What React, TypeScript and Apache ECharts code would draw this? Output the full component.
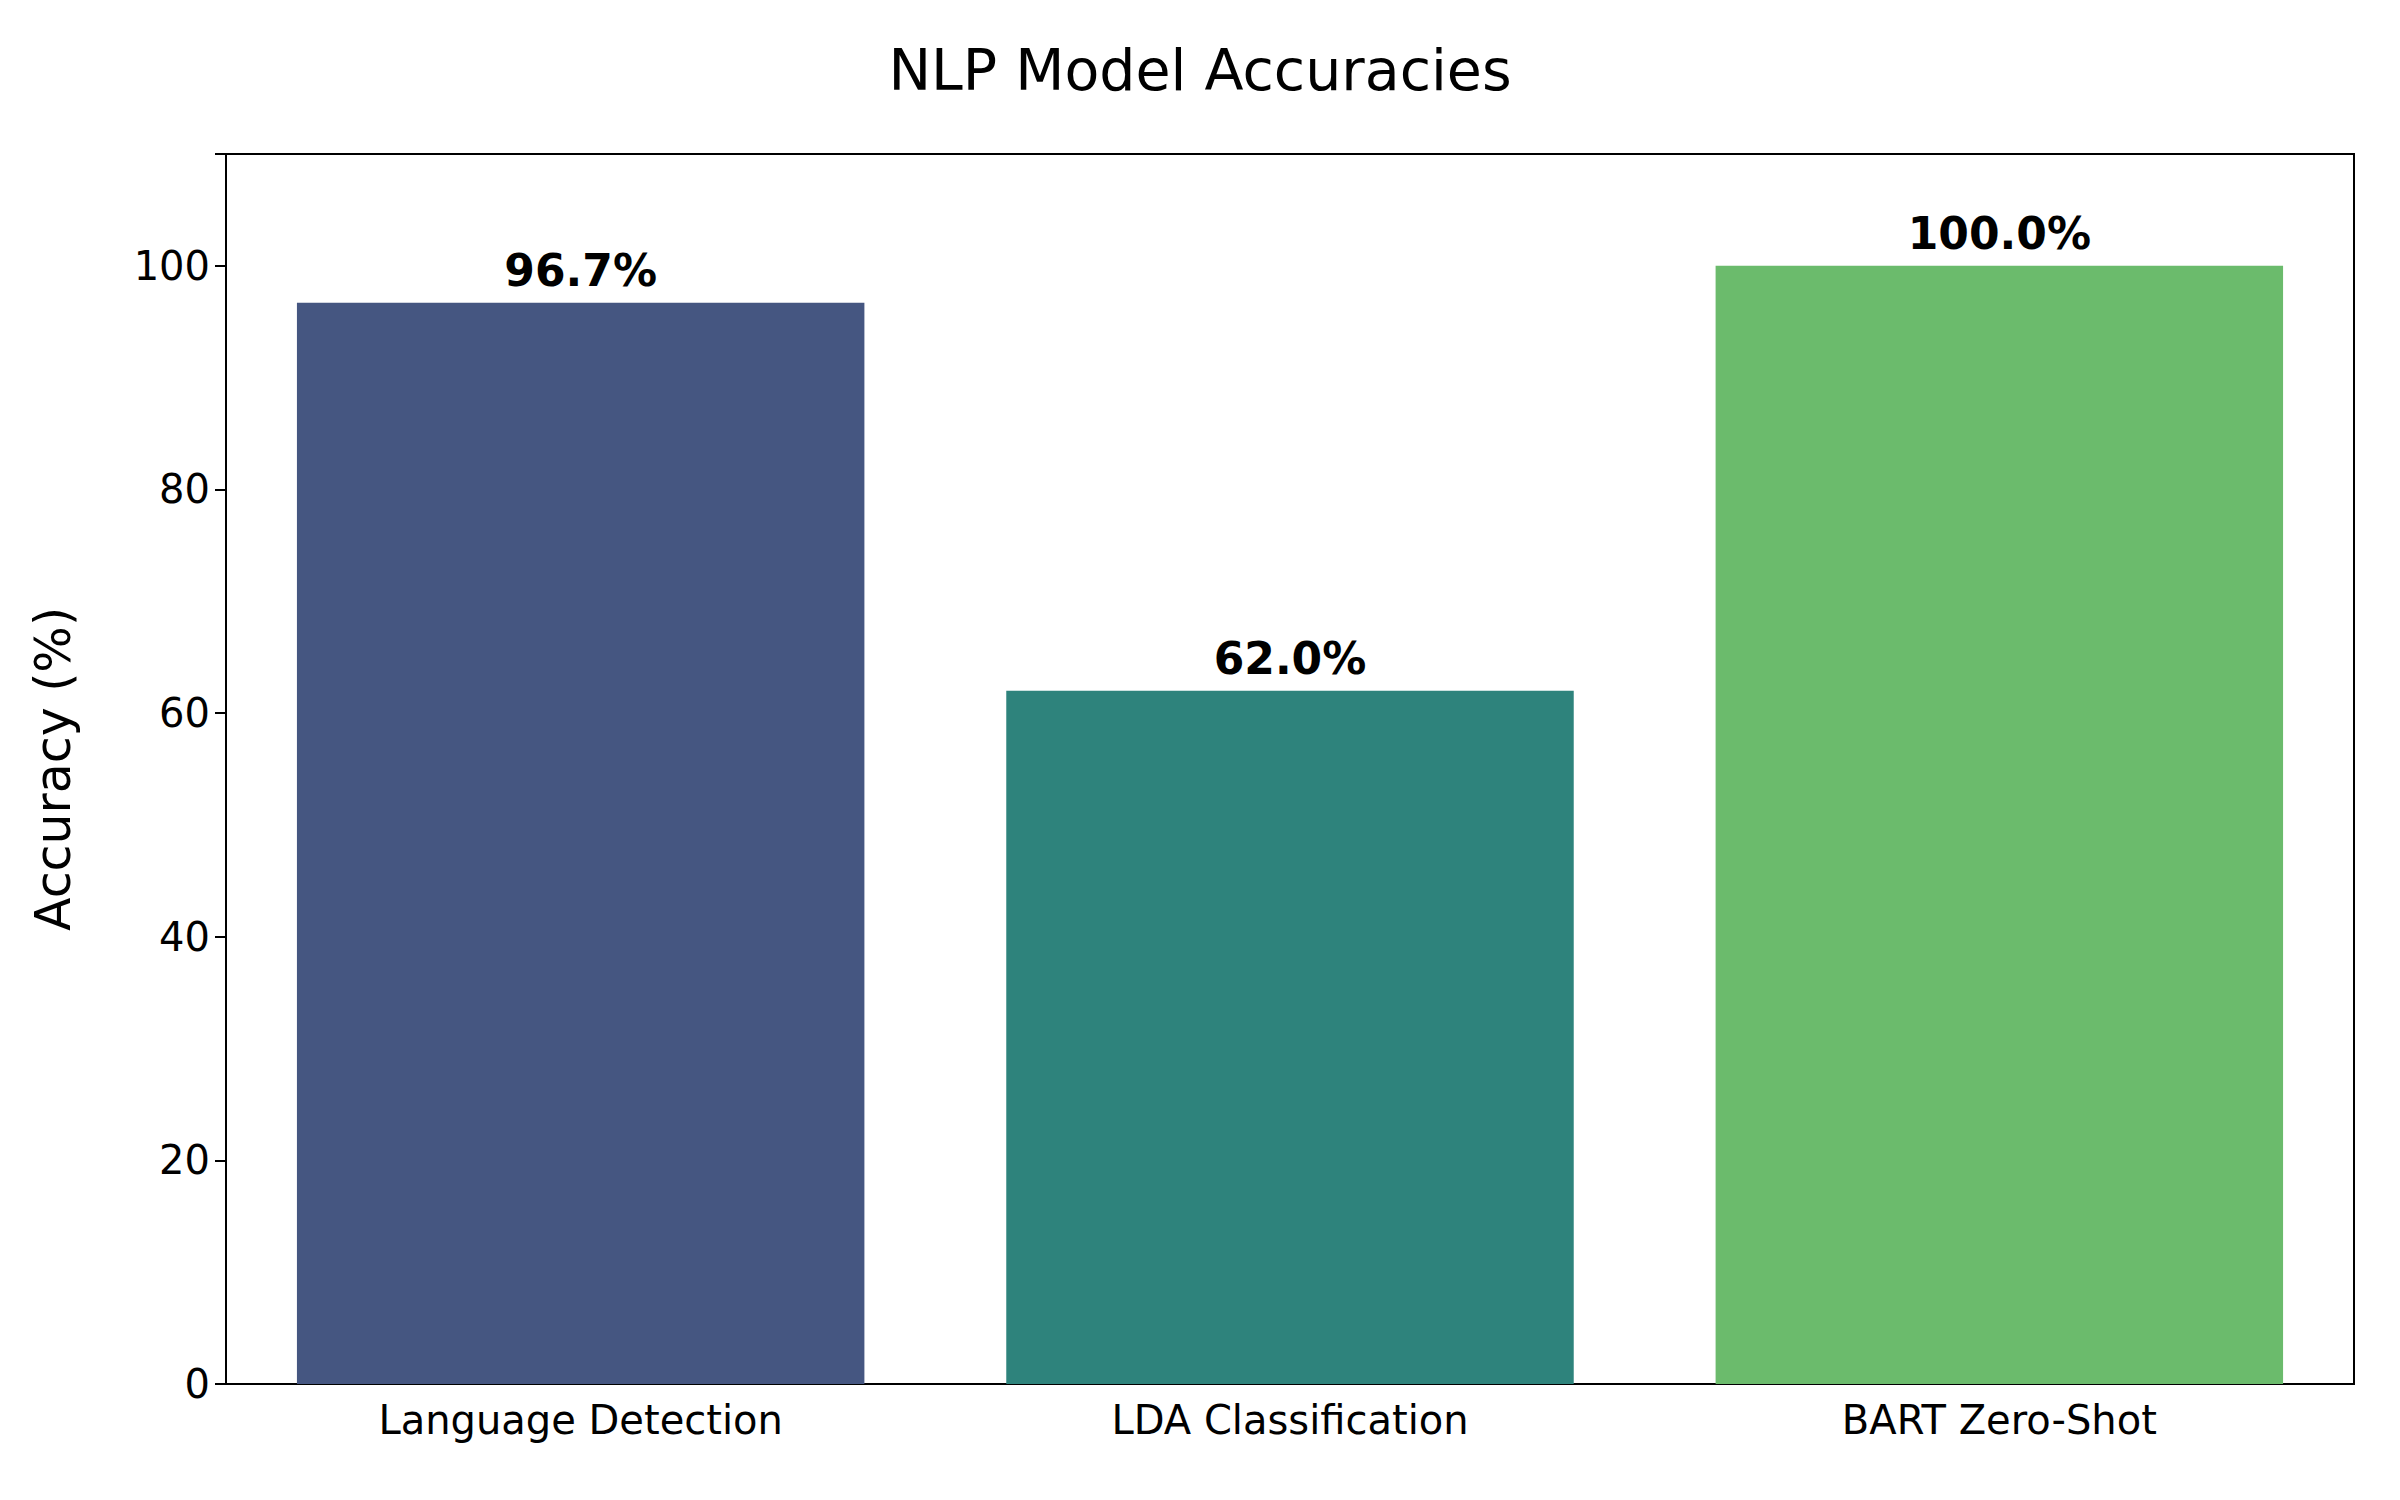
import { useEffect, useRef } from 'react'
import * as echarts from 'echarts'

const categories = ['Language Detection', 'LDA Classification', 'BART Zero-Shot']
const accuracies = [96.7, 62.0, 100.0]
const barColors = ['#455681', '#2e837c', '#6bbb6c']

const App = () => {
  const chartRef = useRef<HTMLDivElement>(null)

  useEffect(() => {
    document.body.style.margin = '0'
    const chart = echarts.init(chartRef.current, null, { renderer: 'svg' })
    const font = 'DejaVu Sans'
    const left = 226, right = 46, top = 154, bottom = 116
    chart.setOption({
      animation: false,
      title: {
        text: 'NLP Model Accuracies',
        left: 'center',
        top: 36,
        textStyle: { fontFamily: font, fontSize: 57, fontWeight: 'normal', color: '#000' }
      },
      grid: { left, right, top, bottom },
      xAxis: {
        type: 'category',
        data: categories,
        axisLine: { lineStyle: { color: '#000', width: 2 } },
        axisTick: { alignWithLabel: true, length: 11, lineStyle: { color: '#000', width: 2 } },
        axisLabel: { fontFamily: font, fontSize: 40, color: '#000', margin: 16 },
        splitLine: { show: false }
      },
      yAxis: {
        type: 'value',
        min: 0,
        max: 110,
        interval: 20,
        name: 'Accuracy (%)',
        nameLocation: 'middle',
        nameGap: 148,
        nameTextStyle: { fontFamily: font, fontSize: 49, color: '#000' },
        axisLine: { show: true, lineStyle: { color: '#000', width: 2 } },
        axisTick: { show: true, length: 11, lineStyle: { color: '#000', width: 2 } },
        axisLabel: {
          fontFamily: font, fontSize: 40, color: '#000', margin: 16,
          formatter: (v: number) => (v > 100 ? '' : String(v))
        },
        splitLine: { show: false }
      },
      graphic: [{
        type: 'rect',
        shape: { x: left, y: top, width: 2400 - left - right, height: 1500 - top - bottom },
        style: { fill: 'none', stroke: '#000', lineWidth: 2 },
        silent: true
      }],
      series: [{
        type: 'bar',
        barWidth: '80%',
        data: accuracies.map((v, i) => ({ value: v, itemStyle: { color: barColors[i] } })),
        label: {
          show: true,
          position: 'top',
          distance: 10,
          fontFamily: font,
          fontSize: 44,
          fontWeight: 'bold',
          color: '#000',
          formatter: (p: any) => p.value.toFixed(1) + '%'
        }
      }]
    })
    return () => chart.dispose()
  }, [])

  return <div ref={chartRef} style={{ width: 2400, height: 1500 }} />
}

export default App
